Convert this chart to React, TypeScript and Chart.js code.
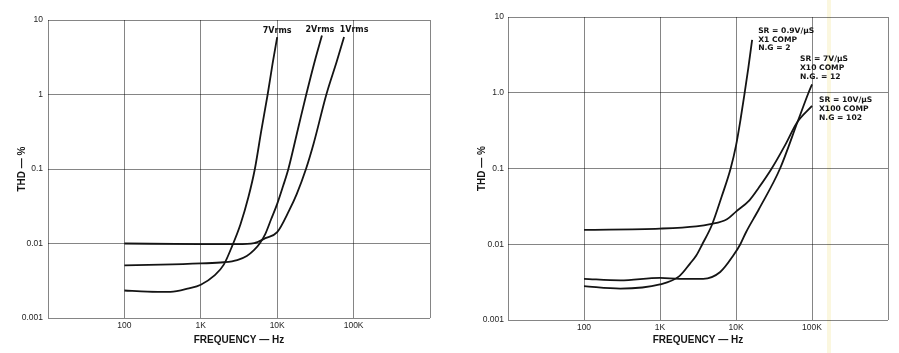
import { useEffect, useRef } from 'react';
import { Chart, registerables } from 'chart.js';

Chart.register(...registerables);

// ---------- Left chart: THD vs frequency for three output levels ----------
const freq7V = [100, 200, 400, 700, 1000, 1500, 2000, 2600, 3300, 4200, 5100, 6200, 7500, 8700, 10000];
const thd7V = [0.00234, 0.00226, 0.00224, 0.0025, 0.0028, 0.0037, 0.0052, 0.0095, 0.018, 0.042, 0.1, 0.33, 1.0, 2.6, 5.9];

const freq2V = [100, 300, 1000, 2000, 3000, 4000, 5000, 5900, 7000, 8300, 10000, 12000, 14000, 19000, 24000, 31000, 38500];
const thd2V = [0.0051, 0.0052, 0.0054, 0.0056, 0.006, 0.0068, 0.0082, 0.01, 0.0135, 0.021, 0.034, 0.06, 0.1, 0.37, 1.0, 2.8, 6.2];

const freq1V = [100, 1000, 3000, 5000, 7000, 10000, 14400, 18000, 23800, 30000, 44000, 60000, 75000];
const thd1V = [0.01, 0.0098, 0.0098, 0.0101, 0.0118, 0.0142, 0.028, 0.046, 0.1, 0.22, 1.0, 2.75, 5.9];

// ---------- Right chart: THD vs frequency for three compensations ----------
const freqX1 = [100, 300, 1000, 1800, 2500, 3000, 3600, 4800, 6500, 8500, 10000, 11500, 13000, 14500, 16300];
const thdX1 = [0.0028, 0.0026, 0.00295, 0.0038, 0.0056, 0.0071, 0.01, 0.0178, 0.043, 0.1, 0.2, 0.45, 1.0, 2.1, 5.0];

const freqX100 = [100, 1000, 3000, 4600, 7600, 10000, 15000, 20000, 29500, 45000, 63000, 100000];
const thdX100 = [0.0155, 0.0161, 0.0172, 0.0184, 0.0214, 0.027, 0.038, 0.056, 0.1, 0.21, 0.4, 0.67];

const freqX10 = [100, 300, 1000, 1800, 3700, 6200, 9300, 11400, 13500, 20000, 38000, 65000, 90000, 100000];
const thdX10 = [0.0035, 0.00334, 0.0036, 0.0035, 0.0035, 0.0043, 0.0072, 0.01, 0.0143, 0.029, 0.1, 0.42, 1.0, 1.29];

// ---------- Axes ----------
const xTickValues = [10, 100, 1000, 10000, 100000, 1000000];
const xTickLabels = ['', '100', '1K', '10K', '100K', ''];
const yTickValues = [0.001, 0.01, 0.1, 1, 10];
const leftYTickLabels = ['0.001', '0.01', '0.1', '1', '10'];
const rightYTickLabels = ['0.001', '0.01', '0.1', '1.0', '10'];
const xTitle = 'FREQUENCY \u2014 Hz';
const yTitle = 'THD \u2014 %';

const leftCurveLabels = [['7Vrms'], ['2Vrms'], ['1Vrms']];
const rightCurveLabels = [
  ['SR = 0.9V/\u00b5S', 'X1 COMP', 'N.G = 2'],
  ['SR = 10V/\u00b5S', 'X100 COMP', 'N.G = 102'],
  ['SR = 7V/\u00b5S', 'X10 COMP', 'N.G. = 12'],
];

const INK = '#141414';
const GRID = 'rgba(0,0,0,0.48)';
const FONT = "'Liberation Sans', Arial, sans-serif";
const LABEL_FONT = "'DejaVu Sans', sans-serif";

type Series = { f: number[]; t: number[] };
type LabelPos = { dx: number; dy: number; align: CanvasTextAlign };
type Layout = {
  yAxisWidth: number;
  xAxisHeight: number;
  padTop: number;
  padRight: number;
  yTitlePad: number;
  yTickPad: number;
  lineGap: number;
  labelFont: string;
};

function makeConfig(series: Series[], yLabels: string[], curveLabels: string[][], labelPos: LabelPos[], lay: Layout, stripe: boolean): any {
  const labelPlugin = {
    id: 'curveLabels',
    beforeDraw(chart: any) {
      if (!stripe) return;
      const ctx = chart.ctx;
      ctx.save();
      ctx.fillStyle = 'rgba(248,240,196,0.55)';
      ctx.fillRect(377, 0, 4, chart.height);
      ctx.restore();
    },
    afterDatasetsDraw(chart: any) {
      const ctx = chart.ctx;
      ctx.save();
      ctx.fillStyle = INK;
      ctx.font = lay.labelFont;
      ctx.textBaseline = 'middle';
      chart.data.datasets.forEach((_: any, i: number) => {
        const meta = chart.getDatasetMeta(i);
        const last = meta.data[meta.data.length - 1];
        const pos = labelPos[i];
        ctx.textAlign = pos.align;
        curveLabels[i].forEach((line, k) => {
          ctx.fillText(line, last.x + pos.dx, last.y + pos.dy + k * lay.lineGap);
        });
      });
      ctx.restore();
    },
  };

  return {
    type: 'line',
    data: {
      datasets: series.map((s) => ({
        data: s.f.map((f, i) => ({ x: f, y: s.t[i] })),
        borderColor: INK,
        borderWidth: 1.8,
        pointRadius: 0,
        fill: false,
        cubicInterpolationMode: 'monotone',
      })),
    },
    options: {
      animation: false,
      responsive: false,
      maintainAspectRatio: false,
      devicePixelRatio: 1,
      layout: { padding: { top: lay.padTop, right: lay.padRight, left: 0, bottom: 0 } },
      plugins: { legend: { display: false }, tooltip: { enabled: false }, title: { display: false } },
      scales: {
        x: {
          type: 'logarithmic',
          min: 10,
          max: 1000000,
          afterBuildTicks: (scale: any) => {
            scale.ticks = xTickValues.map((v) => ({ value: v }));
          },
          afterFit: (scale: any) => {
            scale.height = lay.xAxisHeight;
          },
          grid: { color: GRID, lineWidth: 1, drawTicks: false },
          border: { display: false },
          ticks: {
            autoSkip: false,
            maxRotation: 0,
            padding: 3,
            color: '#262626',
            font: { family: FONT, size: 8.5 },
            callback: (_v: any, i: number) => xTickLabels[i],
          },
          title: {
            display: true,
            text: xTitle,
            color: INK,
            font: { family: FONT, size: 10, weight: 'bold' },
            padding: { top: 0, bottom: 7 },
          },
        },
        y: {
          type: 'logarithmic',
          min: 0.001,
          max: 10,
          afterBuildTicks: (scale: any) => {
            scale.ticks = yTickValues.map((v) => ({ value: v }));
          },
          afterFit: (scale: any) => {
            scale.width = lay.yAxisWidth;
          },
          grid: { color: GRID, lineWidth: 1, drawTicks: false },
          border: { display: false },
          ticks: {
            autoSkip: false,
            padding: lay.yTickPad,
            color: '#262626',
            font: { family: FONT, size: 8.5 },
            callback: (_v: any, i: number) => yLabels[i],
          },
          title: {
            display: true,
            text: yTitle,
            color: INK,
            font: { family: FONT, size: 10, weight: 'bold' },
            padding: { top: lay.yTitlePad, bottom: 0 },
          },
        },
      },
    },
    plugins: [labelPlugin],
  };
}

export default function App() {
  const leftRef = useRef<HTMLCanvasElement>(null);
  const rightRef = useRef<HTMLCanvasElement>(null);

  useEffect(() => {
    const left = new Chart(
      leftRef.current!,
      makeConfig(
        [
          { f: freq7V, t: thd7V },
          { f: freq2V, t: thd2V },
          { f: freq1V, t: thd1V },
        ],
        leftYTickLabels,
        leftCurveLabels,
        [
          { dx: 0, dy: -6, align: 'center' },
          { dx: -2, dy: -6, align: 'center' },
          { dx: 10, dy: -7, align: 'center' },
        ],
        { yAxisWidth: 48, xAxisHeight: 35, padTop: 20, padRight: 20, yTitlePad: 16, yTickPad: 5, lineGap: 9, labelFont: `bold 8px ${LABEL_FONT}` },
        false,
      ),
    );
    const right = new Chart(
      rightRef.current!,
      makeConfig(
        [
          { f: freqX1, t: thdX1 },
          { f: freqX100, t: thdX100 },
          { f: freqX10, t: thdX10 },
        ],
        rightYTickLabels,
        rightCurveLabels,
        [
          { dx: 6, dy: -9, align: 'left' },
          { dx: 7, dy: -6, align: 'left' },
          { dx: -12, dy: -25, align: 'left' },
        ],
        { yAxisWidth: 58, xAxisHeight: 33, padTop: 17, padRight: 11, yTitlePad: 26, yTickPad: 4, lineGap: 8.8, labelFont: `bold 7.6px ${LABEL_FONT}` },
        true,
      ),
    );
    return () => {
      left.destroy();
      right.destroy();
    };
  }, []);

  return (
    <div style={{ position: 'fixed', left: 0, top: 0, width: 899, height: 353, background: '#fff', overflow: 'hidden' }}>
      <canvas ref={leftRef} width={450} height={353} style={{ position: 'absolute', left: 0, top: 0, width: 450, height: 353 }} />
      <canvas ref={rightRef} width={449} height={353} style={{ position: 'absolute', left: 450, top: 0, width: 449, height: 353 }} />
    </div>
  );
}
